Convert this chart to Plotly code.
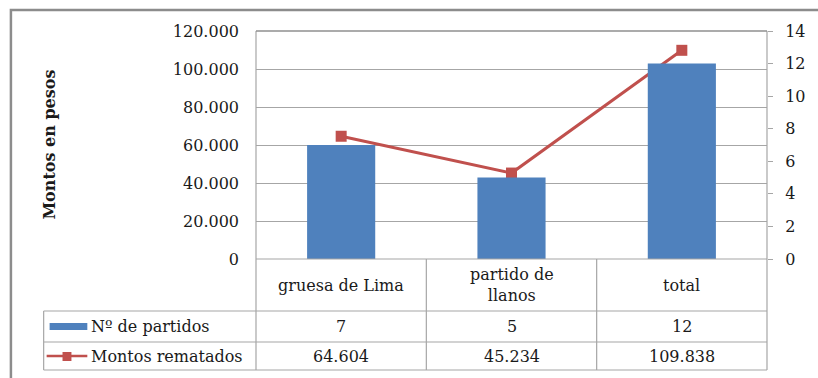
import plotly.graph_objects as go

# Data
categorias = ["gruesa de Lima", "partido de llanos", "total"]
etiquetas_tabla = ["gruesa de Lima", "partido de<br>llanos", "total"]
num_partidos = [7, 5, 12]
montos_rematados = [64604, 45234, 109838]
serie_barras = "Nº de partidos"
serie_linea = "Montos rematados"
titulo_y = "Montos en pesos"

W, H = 818, 378
L, R, T, B = 256, 771, 31, 259  # plot area in pixels

BLUE = "#4F81BD"
RED = "#C0504D"
GRID = "#a6a6a6"
TXT = "#1a1a1a"
FONT = "DejaVu Serif"


def px(x):
    return (x - L) / (R - L)


def py(y):
    return (B - y) / (B - T)


fig = go.Figure()
fig.add_trace(go.Bar(
    x=categorias, y=num_partidos, name=serie_barras, yaxis="y2",
    marker=dict(color=BLUE, line=dict(width=0)), width=0.4,
))
fig.add_trace(go.Scatter(
    x=categorias, y=montos_rematados, name=serie_linea, yaxis="y",
    mode="lines+markers", line=dict(color=RED, width=3),
    marker=dict(symbol="square", size=11, color=RED),
))

shapes = []


def hline(y, x0, x1, color=GRID, w=1.2):
    shapes.append(dict(type="line", xref="paper", yref="paper",
                       x0=px(x0), x1=px(x1), y0=py(y), y1=py(y),
                       line=dict(color=color, width=w)))


def vline_paper(x, y0, y1, color=GRID, w=1.2):
    shapes.append(dict(type="line", xref="paper", yref="paper",
                       x0=px(x), x1=px(x), y0=py(y0), y1=py(y1),
                       line=dict(color=color, width=w)))


def vline_data(xd, y0, y1, color=GRID, w=1.2):
    shapes.append(dict(type="line", xref="x", yref="paper",
                       x0=xd, x1=xd, y0=py(y0), y1=py(y1),
                       line=dict(color=color, width=w)))


# outer frame
shapes.append(dict(type="rect", xref="paper", yref="paper",
                   x0=px(9), x1=px(830), y0=py(10), y1=py(392),
                   line=dict(color="#8c8c8c", width=2.5)))

# axes lines running down through the data table
vline_paper(L, T, 370)
vline_paper(R, T, 370)
vline_data(0.5, B, 370)
vline_data(1.5, B, 370)
# plot-area top edge
hline(T, L, R, color="#8f8f8f", w=1.5)
# table rows
hline(B, L, R)
hline(311, 42, R)
hline(342, 42, R)
hline(370, 42, R)
vline_paper(42, 311, 370)

# legend keys
shapes.append(dict(type="rect", xref="paper", yref="paper",
                   x0=px(48), x1=px(86), y0=py(323), y1=py(330),
                   fillcolor=BLUE, line=dict(width=0)))
hline(356, 45, 86, color=RED, w=2.5)
shapes.append(dict(type="rect", xref="paper", yref="paper",
                   x0=px(61), x1=px(70), y0=py(352), y1=py(361),
                   fillcolor=RED, line=dict(width=0)))

annotations = []
fnt = dict(family=FONT, size=16, color=TXT)
for cat, lab, n, m in zip(categorias, etiquetas_tabla, num_partidos, montos_rematados):
    annotations.append(dict(xref="x", yref="paper", x=cat, y=py(285),
                            text=lab, showarrow=False, font=fnt,
                            xanchor="center", yanchor="middle"))
    annotations.append(dict(xref="x", yref="paper", x=cat, y=py(326.5),
                            text=f"{n}", showarrow=False, font=fnt,
                            xanchor="center", yanchor="middle"))
    annotations.append(dict(xref="x", yref="paper", x=cat, y=py(356),
                            text=f"{m:,}".replace(",", "."), showarrow=False,
                            font=fnt, xanchor="center", yanchor="middle"))
annotations.append(dict(xref="paper", yref="paper", x=px(88), y=py(326.5),
                        text=serie_barras, showarrow=False, font=fnt,
                        xanchor="left", yanchor="middle"))
annotations.append(dict(xref="paper", yref="paper", x=px(88), y=py(356),
                        text=serie_linea, showarrow=False, font=fnt,
                        xanchor="left", yanchor="middle"))
annotations.append(dict(xref="paper", yref="paper", x=px(47), y=0.5,
                        text=f"<b>{titulo_y}</b>", textangle=-90,
                        showarrow=False, font=dict(family=FONT, size=16, color=TXT),
                        xanchor="center", yanchor="middle"))

fig.update_layout(
    width=W, height=H,
    margin=dict(l=L, r=W - R, t=T, b=H - B),
    paper_bgcolor="white", plot_bgcolor="white",
    separators=",.",
    showlegend=False,
    bargap=0.6,
    font=dict(family=FONT, size=16, color=TXT),
    xaxis=dict(type="category", range=[-0.5, 2.5], showticklabels=False,
               showgrid=False, zeroline=False, showline=False, ticks=""),
    yaxis=dict(range=[0, 120000], dtick=20000, tickformat=",d",
               showgrid=True, gridcolor=GRID, gridwidth=1.2,
               zeroline=False, showline=False, ticks="",
               ticklabelstandoff=16,
               tickfont=dict(family=FONT, size=16, color=TXT)),
    yaxis2=dict(range=[0, 14], dtick=2, overlaying="y", side="right",
                showgrid=False, zeroline=False, showline=False,
                ticks="outside", ticklen=5, tickcolor=GRID, tickwidth=1.2,
                ticklabelstandoff=9,
                tickfont=dict(family=FONT, size=16, color=TXT)),
    shapes=shapes,
    annotations=annotations,
)

fig.write_html("out.html")
